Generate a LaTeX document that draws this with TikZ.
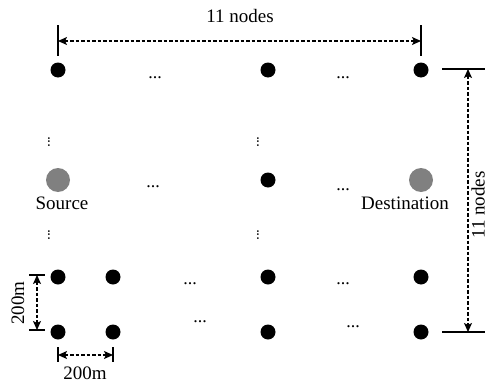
\documentclass[tikz,border=0pt]{standalone}
\usepackage{fontspec}
\setmainfont{Liberation Serif}
\usetikzlibrary{arrows.meta}
\definecolor{dotgray}{RGB}{128,128,128}
\begin{document}
\begin{tikzpicture}[x=1pt,y=-1pt,
 dot/.style={circle,fill=black,inner sep=0pt,minimum size=15pt},
 gdot/.style={circle,fill=dotgray,inner sep=0pt,minimum size=24pt},
 lbl/.style={font=\fontsize{19}{22}\selectfont,inner sep=0pt},
 ell/.style={font=\fontsize{18}{20}\selectfont,inner sep=0pt},
 vell/.style={font=\fontsize{15}{18}\selectfont,inner sep=0pt,rotate=90},
 bar/.style={line width=1.8pt},
 dim/.style={line width=1.3pt,dash pattern=on 3.5pt off 2pt,
   {Stealth[length=9pt,width=8pt,inset=2pt]}-{Stealth[length=9pt,width=8pt,inset=2pt]}}]
\useasboundingbox (0,0) rectangle (488,383);
% grid nodes
\node[dot] (n11) at (58,70) {};
\node[dot] (n13) at (268,70) {};
\node[dot] (n14) at (421,70) {};
\node[gdot] (src) at (58,180) {};
\node[dot] (m3) at (268,180) {};
\node[gdot] (dst) at (421,180) {};
\node[dot] (a1) at (58,277) {};
\node[dot] (a2) at (113,277) {};
\node[dot] (a3) at (268,277) {};
\node[dot] (a4) at (421,277) {};
\node[dot] (b1) at (58,332) {};
\node[dot] (b2) at (113,332) {};
\node[dot] (b3) at (268,332) {};
\node[dot] (b4) at (421,332) {};
% labels
\node[lbl] (srcl) at (62,203) {Source};
\node[lbl] (dstl) at (405,203) {Destination};
% ellipses
\node[ell] (e1) at (155,78) {...};
\node[ell] (e2) at (343,78) {...};
\node[ell] (e3) at (153,187) {...};
\node[ell] (e4) at (343,190) {...};
\node[ell] (e5) at (190,284) {...};
\node[ell] (e6) at (343,284) {...};
\node[ell] (e7) at (200,322) {...};
\node[ell] (e8) at (353,327) {...};
\node[vell] (v1) at (49,142) {...};
\node[vell] (v2) at (258,142) {...};
\node[vell] (v3) at (49,235) {...};
\node[vell] (v4) at (258,235) {...};
% top dimension
\coordinate (t1a) at (58,25); \coordinate (t1b) at (58,56);
\coordinate (t2a) at (421,25); \coordinate (t2b) at (421,56);
\draw[bar] (t1a) -- (t1b);
\draw[bar] (t2a) -- (t2b);
\coordinate (ta) at (58,41); \coordinate (tb) at (421,41);
\draw[dim] (ta) -- (tb);
\node[lbl] (toplbl) at (240,16) {11 nodes};
% right dimension
\coordinate (r1a) at (442,69); \coordinate (r1b) at (485,69);
\coordinate (r2a) at (442,332); \coordinate (r2b) at (485,332);
\draw[bar] (r1a) -- (r1b);
\draw[bar] (r2a) -- (r2b);
\coordinate (ra) at (468,69); \coordinate (rb) at (468,332);
\draw[dim] (ra) -- (rb);
\node[lbl,rotate=90] (rlbl) at (478,205) {11 nodes};
% left 200m
\coordinate (l1a) at (29,275); \coordinate (l1b) at (45,275);
\coordinate (l2a) at (29,330); \coordinate (l2b) at (45,330);
\draw[bar] (l1a) -- (l1b);
\draw[bar] (l2a) -- (l2b);
\coordinate (la) at (37,275); \coordinate (lb) at (37,330);
\draw[dim] (la) -- (lb);
\node[lbl,rotate=90] (llbl) at (18,303) {200m};
% bottom 200m
\coordinate (d1a) at (58,347); \coordinate (d1b) at (58,362);
\coordinate (d2a) at (113,347); \coordinate (d2b) at (113,362);
\draw[bar] (d1a) -- (d1b);
\draw[bar] (d2a) -- (d2b);
\coordinate (da) at (58,355); \coordinate (db) at (113,355);
\draw[dim] (da) -- (db);
\node[lbl] (blbl) at (85,373) {200m};
\end{tikzpicture}
\end{document}
